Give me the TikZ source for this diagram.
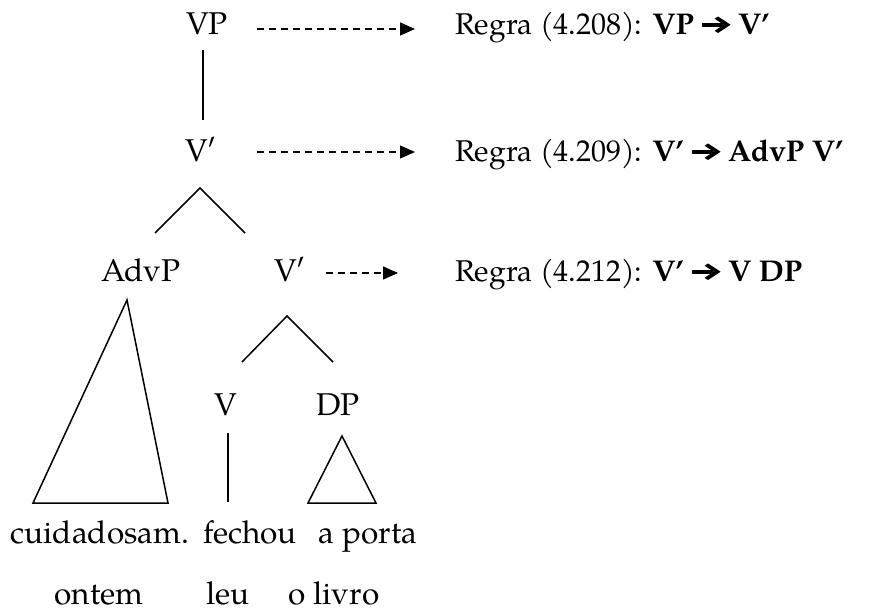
\documentclass[tikz,border=0pt]{standalone}
\usepackage{fontspec}
\setmainfont{TeX Gyre Pagella}
\usetikzlibrary{arrows.meta}
\newcommand\barrow{\tikz[baseline=0pt,x=1pt,y=1pt]{\fill (0,8.2) rectangle (21,12.3);\fill (16.5,2) -- (29,10.25) -- (16.5,18.5) -- (13,16.3) -- (22.2,10.25) -- (13,4.2) -- cycle;}}
\tikzset{
  txt/.style={inner sep=0pt,anchor=base,font=\fontsize{31.5}{36}\selectfont},
  rule/.style={inner sep=0pt,anchor=base west,font=\fontsize{30}{36}\selectfont},
  br/.style={line width=1.5pt},
  darr/.style={line width=1.3pt,dash pattern=on 7pt off 5pt,-{Triangle[length=15pt,width=13pt]}}
}
\begin{document}
\begin{tikzpicture}[x=1pt,y=-1pt]
\useasboundingbox[fill=white] (0,0) rectangle (870,612);
% tree labels
\node[txt] (vp) at (207,35) {VP};
\node[txt] (v1) at (201,162) {V′};
\node[txt] (advp) at (141,282) {AdvP};
\node[txt] (v2) at (290,282) {V′};
\node[txt] (v) at (226,415) {V};
\node[txt] (dp) at (338,415) {DP};
% words
\node[txt] (w1) at (100,543) {cuidadosam.};
\node[txt] (w2) at (250,543) {fechou};
\node[txt] (w3) at (368,543) {a porta};
\node[txt] (w4) at (99,604) {ontem};
\node[txt] (w5) at (228,604) {leu};
\node[txt] (w6) at (334,604) {o livro};
% rules
\node[rule] (r1) at (455,35) {Regra (4.208): \textbf{VP \barrow{} V’}};
\node[rule] (r2) at (455,162) {Regra (4.209): \textbf{V’ \barrow{} AdvP V’}};
\node[rule] (r3) at (455,282) {Regra (4.212): \textbf{V’ \barrow{} V DP}};
% coordinates
\coordinate (vpb) at (203,50);
\coordinate (v1t) at (203,120);
\coordinate (a1) at (200,188);
\coordinate (a1l) at (155,233);
\coordinate (a1r) at (245,233);
\coordinate (a2) at (287,316);
\coordinate (a2l) at (242,362);
\coordinate (a2r) at (333,362);
\coordinate (t1) at (127,300);
\coordinate (t1l) at (33,503);
\coordinate (t1r) at (168,503);
\coordinate (vt) at (228,433);
\coordinate (vb) at (228,502);
\coordinate (t2) at (342,436);
\coordinate (t2l) at (308,503);
\coordinate (t2r) at (376,503);
% branches
\draw[br] (vpb) -- (v1t);
\draw[br] (a1l) -- (a1) -- (a1r);
\draw[br] (a2l) -- (a2) -- (a2r);
\draw[br,line join=miter] (t1) -- (t1l) -- (t1r) -- cycle;
\draw[br] (vt) -- (vb);
\draw[br,line join=miter] (t2) -- (t2l) -- (t2r) -- cycle;
% dashed arrows
\coordinate (d1s) at (257,29); \coordinate (d1e) at (415,29);
\coordinate (d2s) at (257,152); \coordinate (d2e) at (415,152);
\coordinate (d3s) at (326,273); \coordinate (d3e) at (398,273);
\draw[darr] (d1s) -- (d1e);
\draw[darr] (d2s) -- (d2e);
\draw[darr] (d3s) -- (d3e);
\end{tikzpicture}
\end{document}
